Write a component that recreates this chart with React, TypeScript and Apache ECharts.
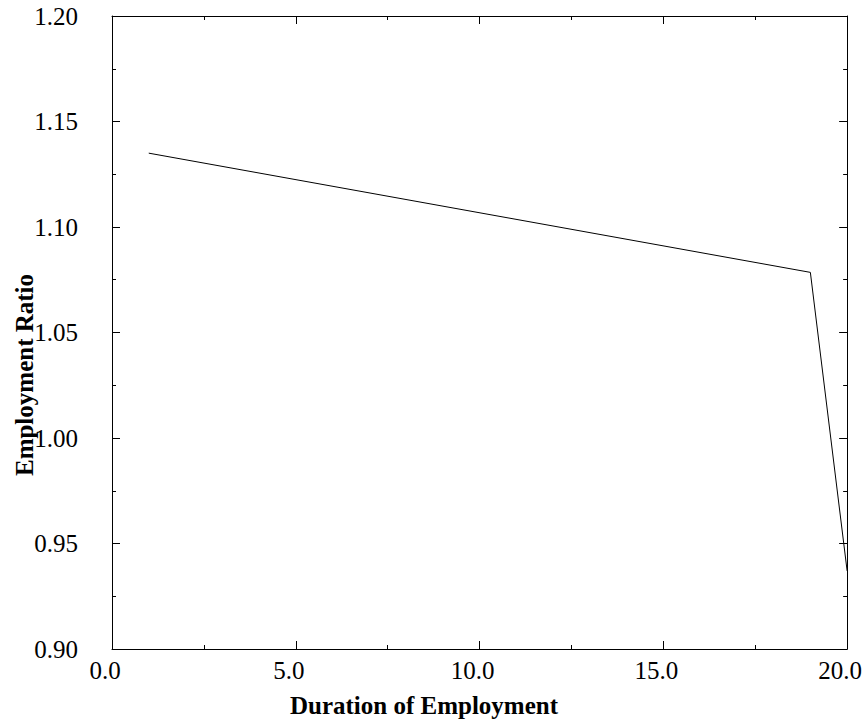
import React, { useEffect, useRef } from "react";
import * as echarts from "echarts";

const xValues = [1.0, 19.0, 20.0];
const yValues = [1.135, 1.0785, 0.937];
const xTitle = "Duration of Employment";
const yTitle = "Employment Ratio";

const FONT = "Liberation Serif";

export default function App() {
  const ref = useRef<HTMLDivElement>(null);
  useEffect(() => {
    document.body.style.margin = "0";
    const chart = echarts.init(ref.current!, undefined, { renderer: "svg" });
    const axisLine = { show: true, onZero: false, lineStyle: { color: "#000", width: 1 } };
    const tick = { show: true, inside: true, length: 8, lineStyle: { color: "#000", width: 1 } };
    const minor = { show: true, splitNumber: 2, length: 4, lineStyle: { color: "#000", width: 1 } };
    const labelStyle = { color: "#000", fontFamily: FONT, fontSize: 25 };
    chart.setOption({
      animation: false,
      backgroundColor: "#fff",
      grid: { left: 112, right: 16.5, top: 16, bottom: 74, containLabel: false },
      xAxis: [
        {
          type: "value", min: 0, max: 20, interval: 5, position: "bottom",
          axisLine, axisTick: tick, minorTick: minor, splitLine: { show: false },
          axisLabel: { ...labelStyle, margin: 9, padding: [0, 14, 0, 0], formatter: (v: number) => v.toFixed(1) },
        },
        {
          type: "value", min: 0, max: 20, interval: 5, position: "top",
          axisLine, axisTick: tick, minorTick: minor, splitLine: { show: false },
          axisLabel: { show: false },
        },
      ],
      yAxis: [
        {
          type: "value", min: 0.9, max: 1.2, interval: 0.05, position: "left",
          axisLine, axisTick: tick, minorTick: minor, splitLine: { show: false },
          axisLabel: { ...labelStyle, margin: 34, formatter: (v: number) => v.toFixed(2) },
        },
        {
          type: "value", min: 0.9, max: 1.2, interval: 0.05, position: "right",
          axisLine, axisTick: tick, minorTick: minor, splitLine: { show: false },
          axisLabel: { show: false },
        },
      ],
      series: [
        {
          type: "line",
          data: xValues.map((x, i) => [x, yValues[i]]),
          showSymbol: false,
          symbol: "none",
          lineStyle: { color: "#000", width: 1 },
          xAxisIndex: 0,
          yAxisIndex: 0,
        },
      ],
      graphic: [
        {
          type: "text", x: 424, y: 705,
          style: { text: xTitle, fontFamily: FONT, fontWeight: "bold", fontSize: 25, fill: "#000", align: "center", verticalAlign: "middle" },
        },
        {
          type: "text", x: 24, y: 375, rotation: Math.PI / 2,
          style: { text: yTitle, fontFamily: FONT, fontWeight: "bold", fontSize: 25, fill: "#000", align: "center", verticalAlign: "middle" },
        },
      ],
    });
    return () => chart.dispose();
  }, []);
  return <div ref={ref} style={{ width: 865, height: 723 }} />;
}
